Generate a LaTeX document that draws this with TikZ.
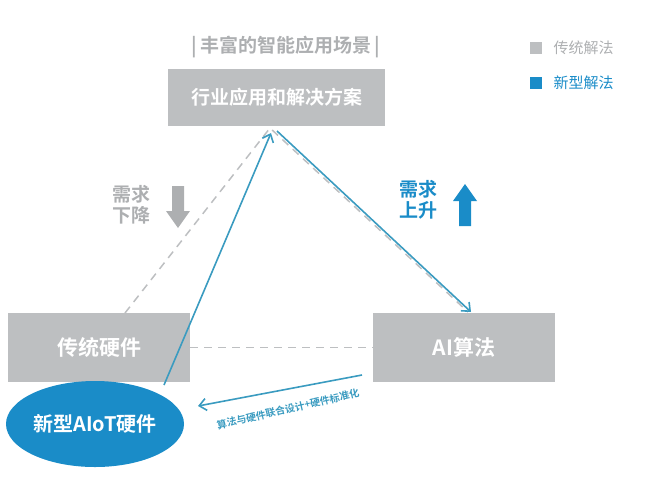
\documentclass[tikz,border=0pt]{standalone}
\usepackage{fontspec}
\setmainfont{Noto Sans CJK SC}[BoldFont={Noto Sans CJK SC Bold}]
\usetikzlibrary{arrows.meta,shapes.geometric}
\definecolor{gbox}{HTML}{BDBFC1}
\definecolor{gtxt}{HTML}{ADAFB1}
\definecolor{blu}{HTML}{1A8CC8}
\definecolor{lblu}{HTML}{3A9BC0}
\begin{document}
\begin{tikzpicture}[x=1pt,y=-1pt,
  box/.style={fill=gbox,text=white,font=\bfseries\fontsize{21}{24}\selectfont,minimum width=182pt,minimum height=69pt,inner sep=0},
  dashline/.style={draw=gbox,line width=1.5pt,dash pattern=on 8pt off 6pt},
  blin/.style={draw=lblu,line width=1.6pt,-{Straight Barb[length=7pt,width=12pt]}}]
\useasboundingbox (0,0) rectangle (660,483);
\node[text=gtxt,font=\bfseries\fontsize{19}{21}\selectfont] (title) at (286,47) {|\,丰富的智能应用场景\,|};
\node[box,minimum width=217pt,minimum height=57pt,font=\bfseries\fontsize{19}{21}\selectfont] (top) at (276.5,97.5) {行业应用和解决方案};
\node[box] (hw) at (99,347.5) {传统硬件};
\node[box] (ai) at (464,347.5) {AI算法};
\coordinate (apex) at (270,128);
\draw[dashline] (125,313) -- (apex) -- (468,312);
\draw[dashline] (hw.east) -- (ai.west);
\node[ellipse,fill=blu,text=white,minimum width=178pt,minimum height=86pt,inner sep=0,font=\bfseries\fontsize{20}{22}\selectfont] (new) at (95,424) {新型AIoT硬件};
\draw[blin] (164,385) -- (271,133);
\draw[blin] (277,131) -- (471,312);
\draw[blin] (362,375) -- (198,406);
\node[text=lblu,font=\bfseries\fontsize{10}{12}\selectfont,rotate=13,inner sep=0] (lab) at (288,409) {算法与硬件联合设计+硬件标准化};
\node[text=gtxt,font=\bfseries\fontsize{19}{21}\selectfont,align=center] (down) at (131,205) {需求\\下降};
\draw[fill=gtxt,draw=none] (172,186) -- (184,186) -- (184,211) -- (190,211) -- (178,228) -- (166,211) -- (172,211) -- cycle;
\node[text=blu,font=\bfseries\fontsize{19}{21}\selectfont,align=center] (up) at (418,200) {需求\\上升};
\draw[fill=blu,draw=none] (459,226) -- (471,226) -- (471,201) -- (477,201) -- (465,184) -- (453,201) -- (459,201) -- cycle;
\node[fill=gbox,minimum size=12pt,inner sep=0] (lg1) at (536,48) {};
\node[anchor=west,text=gtxt,font=\fontsize{15}{17}\selectfont] (lt1) at (550,48) {传统解法};
\node[fill=blu,minimum size=12pt,inner sep=0] (lg2) at (536,83) {};
\node[anchor=west,text=blu,font=\fontsize{15}{17}\selectfont] (lt2) at (550,83) {新型解法};
\end{tikzpicture}
\end{document}
